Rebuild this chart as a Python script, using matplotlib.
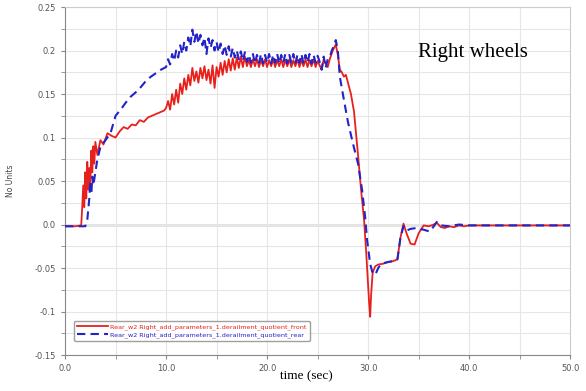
import matplotlib.pyplot as plt
from matplotlib.ticker import MultipleLocator

# front (red, solid)
t_front = [0.0, 1.0, 1.6, 1.7, 1.8, 1.9, 2.0, 2.1, 2.2, 2.3, 2.4, 2.5, 2.6, 2.7, 2.8, 2.9,
           3.0, 3.2, 3.5, 3.8, 4.2, 4.6, 5.0, 5.4, 5.8, 6.2, 6.6, 7.0, 7.4, 7.8, 8.2, 8.6,
           9.0, 9.4, 9.8, 10.0,
           10.2, 10.4, 10.6, 10.8, 11.0, 11.2, 11.4, 11.6, 11.8, 12.0,
           12.2, 12.4, 12.6, 12.8, 13.0, 13.2, 13.4, 13.6, 13.8, 14.0,
           14.2, 14.4, 14.6, 14.8, 15.0, 15.2, 15.4, 15.6, 15.8, 16.0,
           16.2, 16.4, 16.6, 16.8, 17.0, 17.2, 17.4, 17.6, 17.8, 18.0,
           18.2, 18.4, 18.6, 18.8, 19.0, 19.2, 19.4, 19.6, 19.8, 20.0,
           20.2, 20.4, 20.6, 20.8, 21.0, 21.2, 21.4, 21.6, 21.8, 22.0,
           22.2, 22.4, 22.6, 22.8, 23.0, 23.2, 23.4, 23.6, 23.8, 24.0,
           24.2, 24.4, 24.6, 24.8, 25.0, 25.2, 25.4, 25.6, 25.8, 26.0,
           26.2, 26.5, 26.8, 27.0, 27.2, 27.4, 27.6, 27.8, 28.0, 28.3, 28.6,
           29.0, 29.3, 29.6, 29.8, 30.0, 30.1, 30.2, 30.3, 30.45, 30.7, 31.0,
           31.5, 32.0, 32.5, 32.9, 33.2, 33.5, 33.8, 34.2, 34.6, 35.0, 35.5,
           36.0, 36.5, 36.8, 37.2, 37.6, 38.0, 38.5, 39.0, 39.5, 40.0, 41.0, 50.0]
front = [-0.002, -0.002, -0.001, 0.02, 0.045, 0.02, 0.06, 0.03, 0.072, 0.04, 0.065, 0.045, 0.085, 0.06, 0.09, 0.07,
         0.095, 0.08, 0.097, 0.092, 0.105, 0.102, 0.1, 0.107, 0.112, 0.11, 0.115, 0.114, 0.12, 0.118, 0.123, 0.125,
         0.127, 0.129, 0.131, 0.134,
         0.142, 0.132, 0.15, 0.138, 0.155, 0.14, 0.162, 0.15, 0.168, 0.155,
         0.172, 0.16, 0.18, 0.165, 0.176, 0.163, 0.18, 0.168, 0.182, 0.166,
         0.178, 0.162, 0.183, 0.157, 0.181, 0.17, 0.186, 0.172, 0.188, 0.175,
         0.19, 0.177, 0.191, 0.178, 0.192, 0.18, 0.193, 0.181, 0.193, 0.182,
         0.189, 0.181, 0.19, 0.182, 0.19, 0.181, 0.189, 0.182, 0.19, 0.181,
         0.189, 0.182, 0.19, 0.181, 0.189, 0.182, 0.19, 0.181, 0.189, 0.182,
         0.19, 0.181, 0.189, 0.182, 0.19, 0.181, 0.189, 0.182, 0.19, 0.181,
         0.189, 0.182, 0.19, 0.181, 0.188, 0.183, 0.178, 0.19, 0.185, 0.181,
         0.19, 0.2, 0.207, 0.195, 0.178, 0.175, 0.17, 0.172, 0.163, 0.15, 0.13,
         0.08, 0.04, 0.005, -0.03, -0.07, -0.09, -0.106, -0.08, -0.055, -0.048, -0.046,
         -0.045, -0.043, -0.042, -0.04, -0.015, 0.001, -0.01, -0.022, -0.023, -0.01, -0.001,
         -0.002, 0.0, 0.002, -0.003, -0.004, -0.002, -0.003, -0.001, -0.002, -0.001, -0.001, -0.001]

# rear (blue, dashed)
t_rear = [0.0, 1.0, 2.0, 2.2, 2.4, 2.5, 2.6, 2.7, 2.8, 3.0, 3.2, 3.5, 4.0, 4.5, 5.0, 5.5,
          6.0, 6.5, 7.0, 7.5, 8.0, 8.5, 9.0, 9.5, 10.0,
          10.2, 10.4, 10.6, 10.8, 11.0, 11.2, 11.4, 11.6, 11.8, 12.0,
          12.2, 12.4, 12.6, 12.8, 13.0, 13.2, 13.4, 13.6, 13.8, 14.0,
          14.2, 14.4, 14.6, 14.8, 15.0, 15.2, 15.4, 15.6, 15.8, 16.0,
          16.2, 16.4, 16.6, 16.8, 17.0, 17.2, 17.4, 17.6, 17.8, 18.0,
          18.2, 18.4, 18.6, 18.8, 19.0, 19.2, 19.4, 19.6, 19.8, 20.0,
          20.2, 20.4, 20.6, 20.8, 21.0, 21.2, 21.4, 21.6, 21.8, 22.0,
          22.2, 22.4, 22.6, 22.8, 23.0, 23.2, 23.4, 23.6, 23.8, 24.0,
          24.2, 24.4, 24.6, 24.8, 25.0, 25.2, 25.4, 25.6, 25.8, 26.0,
          26.2, 26.4, 26.6, 26.8, 27.0, 27.2, 27.5, 28.0, 28.5, 29.0, 29.4,
          29.7, 29.9, 30.2, 30.4, 30.7, 31.0, 31.3, 32.0, 32.5, 32.9, 33.2,
          33.5, 33.8, 34.2, 34.8, 35.5, 36.1, 36.5, 36.8, 37.2, 38.0, 39.0, 40.0, 50.0]
rear = [-0.002, -0.002, -0.002, 0.005, 0.03, 0.05, 0.035, 0.055, 0.045, 0.06, 0.075, 0.089, 0.097, 0.105, 0.125, 0.132,
        0.14, 0.147, 0.152, 0.158, 0.165, 0.17, 0.174, 0.178, 0.181,
        0.19, 0.184, 0.196, 0.188, 0.2, 0.192, 0.206, 0.196, 0.21, 0.2,
        0.215, 0.205, 0.224, 0.21, 0.222, 0.208, 0.218, 0.206, 0.215, 0.196,
        0.214, 0.203, 0.212, 0.2, 0.21, 0.198, 0.208, 0.196, 0.206, 0.195,
        0.205, 0.193, 0.203, 0.192, 0.2, 0.19, 0.199, 0.188, 0.198, 0.187,
        0.195, 0.186, 0.196, 0.185, 0.195, 0.186, 0.196, 0.185, 0.195, 0.186,
        0.196, 0.185, 0.195, 0.186, 0.196, 0.185, 0.195, 0.186, 0.196, 0.185,
        0.195, 0.186, 0.196, 0.185, 0.195, 0.186, 0.196, 0.185, 0.195, 0.186,
        0.196, 0.185, 0.195, 0.186, 0.194, 0.187, 0.178, 0.193, 0.18, 0.19,
        0.192, 0.2, 0.205, 0.212, 0.2, 0.17, 0.15, 0.118, 0.093, 0.07, 0.04,
        0.009, -0.018, -0.045, -0.054, -0.058, -0.05, -0.045, -0.043, -0.042, -0.04, -0.015,
        -0.002, -0.007, -0.005, -0.004, -0.006, -0.008, -0.002, 0.003, -0.001, -0.002, 0.0, -0.001, -0.001]

labels = ['Rear_w2 Right_add_parameters_1.derailment_quotient_front',
          'Rear_w2 Right_add_parameters_1.derailment_quotient_rear']
y_ticks = [0.25, 0.2, 0.15, 0.1, 0.05, 0.0, -0.05, -0.1, -0.15]
x_ticks = [0.0, 10.0, 20.0, 30.0, 40.0, 50.0]

RED = '#e8201c'
BLUE = '#2323c8'

fig = plt.figure(figsize=(5.86, 3.91), dpi=100)
ax = fig.add_axes([0.111, 0.092, 0.862, 0.890])

ax.axhline(0.0, color='#7a7a7a', lw=1.0, zorder=1)
l1, = ax.plot(t_front, front, color=RED, lw=1.3, zorder=3)
l2, = ax.plot(t_rear, rear, color=BLUE, lw=1.5, ls=(0, (4, 2.5)), zorder=4)

ax.set_xlim(0, 50)
ax.set_ylim(-0.15, 0.25)
ax.set_xticks(x_ticks)
ax.set_xticklabels([f'{v:.1f}' for v in x_ticks])
ax.set_yticks(y_ticks)
ax.set_yticklabels([str(v) for v in y_ticks])
ax.xaxis.set_minor_locator(MultipleLocator(5))
ax.yaxis.set_minor_locator(MultipleLocator(0.025))
ax.grid(True, which='both', color='#e6e6e6', lw=0.8, zorder=0)
ax.tick_params(which='both', labelsize=6, labelcolor='#555555', color='#888888', length=3)

for s in ['top', 'right']:
    ax.spines[s].set_color('#cccccc')
for s in ['left', 'bottom']:
    ax.spines[s].set_color('#888888')

ax.set_ylabel('No Units', fontsize=5.5, color='#444444', labelpad=14)
ax.set_xlabel('time (sec)', fontsize=9.5, family='Liberation Serif')
ax.xaxis.set_label_coords(0.477, -0.045)
ax.text(0.699, 0.856, 'Right wheels', transform=ax.transAxes, fontsize=15,
        family='Liberation Serif', va='baseline')

leg = ax.legend([l1, l2], labels, loc='lower left', bbox_to_anchor=(0.012, 0.03),
                fontsize=4.6, frameon=True, fancybox=True, edgecolor='#888888',
                handlelength=4.7, handletextpad=0.4, borderpad=0.5, labelspacing=0.3)
for txt, c in zip(leg.get_texts(), [RED, BLUE]):
    txt.set_color(c)

fig.savefig('out.png', dpi=100)
